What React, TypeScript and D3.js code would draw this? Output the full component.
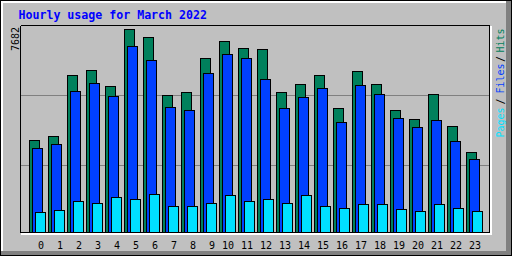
import React from "react";
import * as d3 from "d3";

const hours = d3.range(24).map(String);
const hits = [3481, 3633, 5941, 6130, 5525, 7682, 7379, 5184, 5298, 6585, 7228, 6963, 6925, 5298, 5601, 5941, 4692, 6093, 5601, 4617, 4276, 5222, 4011, 3027];
const files = [3179, 3330, 5336, 5638, 5147, 7039, 6509, 4730, 4617, 6017, 6736, 6585, 5790, 4692, 5109, 5449, 4163, 5563, 5222, 4314, 3973, 4238, 3444, 2762];
const pages = [757, 833, 1173, 1097, 1324, 1249, 1438, 984, 984, 1097, 1400, 1173, 1249, 1097, 1400, 984, 908, 1060, 1060, 870, 795, 1060, 908, 795];
const maxLabel = "7682";
const title = "Hourly usage for March 2022";

const W = 512, H = 256;
const C = {
  bg: "#c0c0c0", hit: "#00805c", file: "#0040ff", page: "#00e0ff",
  dark: "#808080", title: "#0000ff",
};
const mono = "'DejaVu Sans Mono', 'Liberation Mono', monospace";

export default function App() {
  const x = d3.scaleLinear().domain([0, 24]).range([29, 29 + 24 * 19]);
  const y = d3.scaleLinear().domain([0, +maxLabel]).range([232, 29]);
  const grid = d3.scaleLinear().domain([0, 3]).range([235, 25]);
  const series = [
    { data: hits, off: 0, color: C.hit },
    { data: files, off: 3, color: C.file },
    { data: pages, off: 6, color: C.page },
  ];
  return (
    <svg width={W} height={H} style={{ position: "absolute", left: 0, top: 0, display: "block" }} shapeRendering="crispEdges">
      <rect x={0} y={0} width={W} height={H} fill={C.bg} />
      {/* outer bevel */}
      <rect x={1} y={1} width={510} height={2} fill="#ffffff" />
      <rect x={1} y={1} width={2} height={254} fill="#ffffff" />
      <polygon points="506,1 511,1 511,255 1,255 1,251 506,251" fill={C.dark} />
      <rect x={0.5} y={0.5} width={511} height={255} fill="none" stroke="#000" />
      {/* plot frame */}
      <rect x={21} y={233} width={471} height={2} fill="#ffffff" />
      <rect x={490} y={26} width={2} height={209} fill="#ffffff" />
      <line x1={20.5} y1={25.5} x2={489.5} y2={25.5} stroke="#000" />
      <line x1={20.5} y1={25.5} x2={20.5} y2={232.5} stroke="#000" />
      <line x1={489.5} y1={25.5} x2={489.5} y2={232.5} stroke="#000" />
      <line x1={20.5} y1={232.5} x2={489.5} y2={232.5} stroke="#000" />
      {[1, 2].map((i) => (
        <line key={i} x1={21} x2={489} y1={grid(i) + 0.5} y2={grid(i) + 0.5} stroke={C.dark} />
      ))}
      {/* bars */}
      {hours.map((h, i) =>
        series.map((s, k) => {
          const top = Math.round(y(s.data[i]));
          const left = x(i) + s.off;
          return (
            <rect key={h + "-" + k} x={left + 0.5} y={top + 0.5} width={10} height={232 - top}
              fill={s.color} stroke="#000" strokeWidth={1} />
          );
        })
      )}
      {/* title */}
      <text x={18.5} y={18.5} fill={C.title} fontFamily={mono} fontWeight="bold" fontSize={11.6}>{title}</text>
      {/* max label */}
      <text transform={`translate(19,27) rotate(-90)`} textAnchor="end" fontFamily={mono} fontSize={10} fill="#000">{maxLabel}</text>
      {/* hour labels */}
      {hours.map((h, i) => (
        <text key={h} x={x(i) + 15} y={249} textAnchor="end" fontFamily={mono} fontSize={10} fill="#000">{h}</text>
      ))}
      {/* legend */}
      <g fontFamily={mono} fontSize={10}>
        <text transform="translate(504,137.5) rotate(-90)" fill={C.page}>Pages</text>
        <text transform="translate(504,104.5) rotate(-90)" fill="#000">/</text>
        <text transform="translate(504,93.5) rotate(-90)" fill={C.file}>Files</text>
        <text transform="translate(504,62) rotate(-90)" fill="#000">/</text>
        <text transform="translate(504,52.5) rotate(-90)" fill={C.hit}>Hits</text>
      </g>
    </svg>
  );
}
